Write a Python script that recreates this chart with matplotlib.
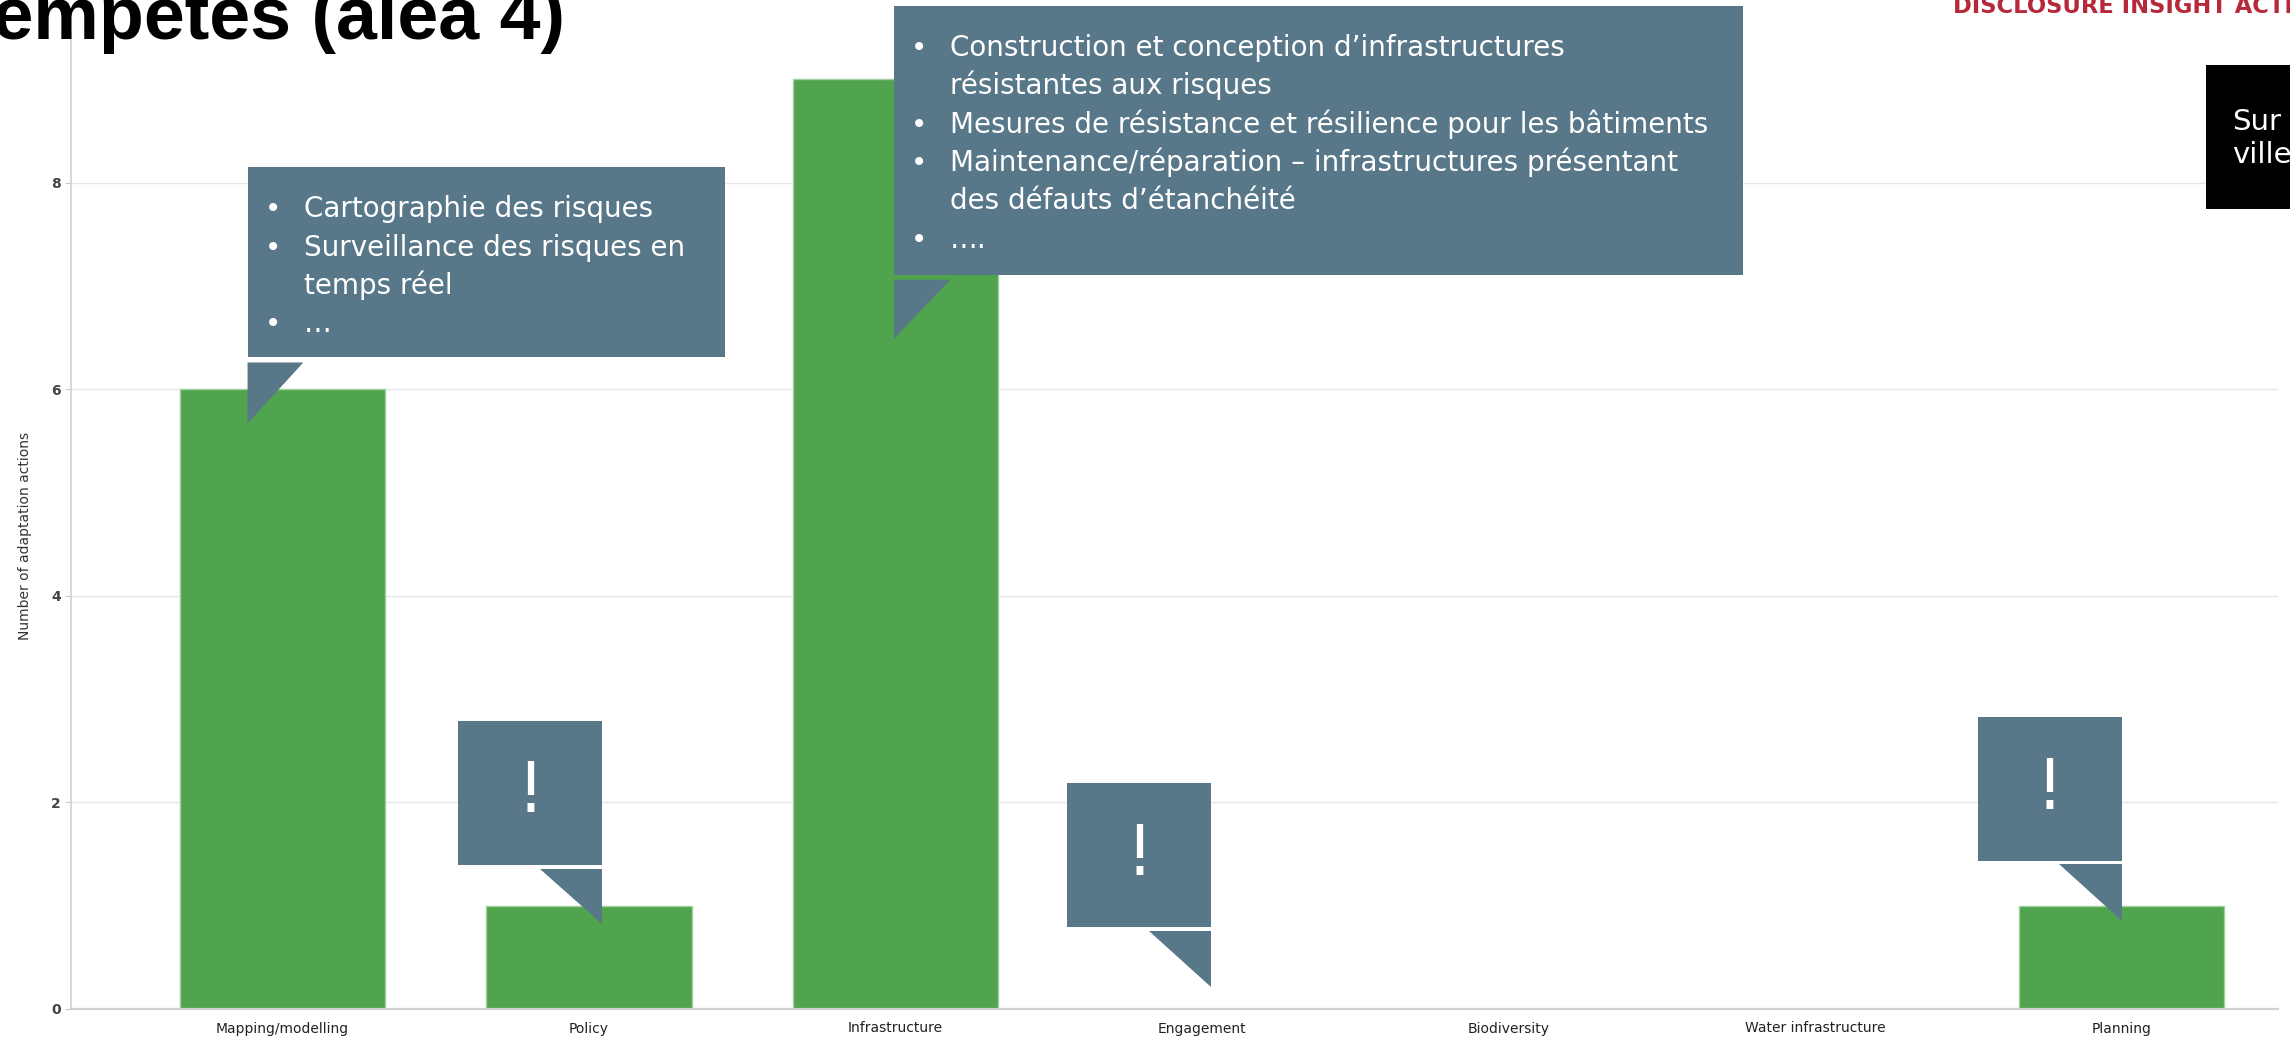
import matplotlib
matplotlib.use("Agg")
import matplotlib.pyplot as plt
from matplotlib.patches import Rectangle, Polygon

# adaptation actions reported for storms, by category
categories = ["Mapping/modelling", "Policy", "Infrastructure", "Engagement",
              "Biodiversity", "Water infrastructure", "Planning"]
counts = [6, 1, 9, 0, 0, 0, 1]
yticks = [0, 2, 4, 6, 8]

mapping_notes = ["Cartographie des risques",
                 "Surveillance des risques en\ntemps réel",
                 "…"]
infra_notes = ["Construction et conception d’infrastructures\nrésistantes aux risques",
               "Mesures de résistance et résilience pour les bâtiments",
               "Maintenance/réparation – infrastructures présentant\ndes défauts d’étanchéité",
               "…."]

BAR = "#4FA44D"
NOTE = "#587889"
DPI = 100
W, H = 2290, 1038

fig = plt.figure(figsize=(W / DPI, H / DPI), dpi=DPI)
ax = fig.add_axes([71 / W, 1 - 1009 / H, (2278 - 71) / W, (1009 - 33) / H])

x = list(range(len(categories)))
ax.bar(x, counts, width=0.67, color=BAR, edgecolor="#9fd09d", linewidth=1, zorder=2)

ax.set_xlim(-0.69, 6.51)
ax.set_ylim(0, 9.45)
ax.set_xticks(x)
ax.set_xticklabels(categories, fontsize=10, color="#222222")
ax.set_yticks(yticks)
ax.set_yticklabels([str(v) for v in yticks], fontsize=10, fontweight="bold", color="#444444")
ax.tick_params(axis="x", length=0, pad=9)
ax.tick_params(axis="y", length=4.3, color="#cccccc", pad=3)
ax.set_ylabel("Number of adaptation actions", fontsize=10, color="#333333")
ax.yaxis.set_label_coords(-0.0177, 0.485)

ax.yaxis.grid(True, color="#e6e6e6", linewidth=1)
ax.set_axisbelow(True)
for s in ["top", "right"]:
    ax.spines[s].set_visible(False)
ax.spines["left"].set_color("#d0d0d0")
ax.spines["left"].set_linewidth(1.2)
ax.spines["bottom"].set_color("#d0d0d0")
ax.spines["bottom"].set_linewidth(1.6)


def callout(x0, x1, y0, y1, tail):
    ax.add_patch(Rectangle((x0, y0), x1 - x0, y1 - y0, facecolor=NOTE,
                           edgecolor="none", zorder=5, clip_on=False))
    ax.add_patch(Polygon(tail, closed=True, facecolor=NOTE,
                         edgecolor="none", zorder=5, clip_on=False))


def bullets(x0, y1, items, first=50, step=38.3):
    # one text per line so bullets and wrapped lines keep the same grid
    kw = dict(xy=(x0, y1), xycoords="data", textcoords="offset pixels",
              va="baseline", ha="left", color="white", fontsize=20,
              zorder=6, annotation_clip=False)
    k = 0
    for item in items:
        for j, line in enumerate(item.split("\n")):
            off = -(first + k * step)
            if j == 0:
                ax.annotate("•", xytext=(17, off), **kw)
            ax.annotate(line, xytext=(56, off), **kw)
            k += 1


def alert(x0, x1, y0, y1):
    ax.text((x0 + x1) / 2, (y0 + y1) / 2, "!", color="white", fontsize=50,
            ha="center", va="center", zorder=6)


# Mapping/modelling
callout(-0.114, 1.444, 6.31, 8.15, [(-0.114, 6.26), (0.068, 6.26), (-0.114, 5.67)])
bullets(-0.114, 8.15, mapping_notes)

# Infrastructure
callout(1.995, 4.764, 7.105, 9.71, [(1.995, 7.06), (2.178, 7.06), (1.995, 6.49)])
bullets(1.995, 9.71, infra_notes)

# Policy, Engagement, Planning
for bx0, bx1, by0, by1, tail in [
        (0.574, 1.043, 1.394, 2.79, [(0.841, 1.355), (1.043, 1.355), (1.043, 0.823)]),
        (2.559, 3.029, 0.794, 2.188, [(2.827, 0.755), (3.029, 0.755), (3.029, 0.213)]),
        (5.530, 6.0, 1.433, 2.827, [(5.797, 1.404), (6.0, 1.404), (6.0, 0.852)])]:
    callout(bx0, bx1, by0, by1, tail)
    alert(bx0, bx1, by0, by1)

# slide header pieces
fig.text(-47 / W, 1 - 39 / H, "Tempêtes (aléa 4)", fontsize=53,
         family=["Liberation Sans", "DejaVu Sans"], fontweight="bold",
         va="baseline", ha="left", color="black")
fig.text(1953 / W, 1 - 13 / H, "DISCLOSURE INSIGHT ACTION", fontsize=16.3,
         fontweight="bold", va="baseline", ha="left", color="#B7283B")

fig.add_artist(Rectangle((2206 / W, 1 - 209 / H), 200 / W, 144 / H,
                         transform=fig.transFigure, facecolor="black",
                         edgecolor="none"))
for i, word in enumerate(["Sur", "villes"]):
    fig.text(2232 / W, 1 - (130 + 33 * i) / H, word, fontsize=21,
             color="white", va="baseline", ha="left")

fig.savefig("out.png", dpi=DPI)
